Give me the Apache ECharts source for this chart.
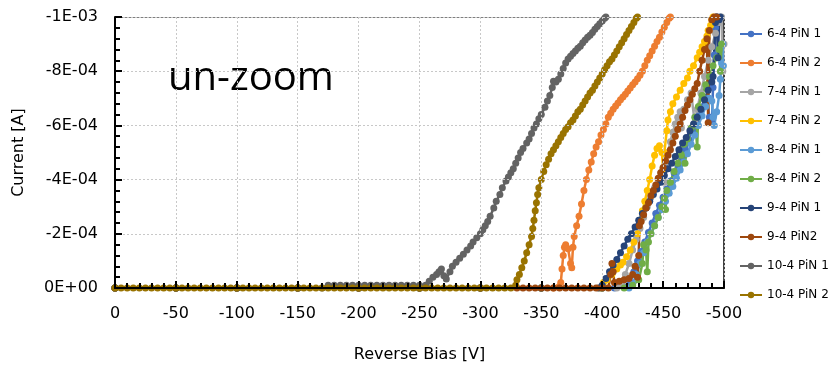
<!DOCTYPE html>
<html>
<head>
<meta charset="utf-8">
<script src="https://cdn.jsdelivr.net/npm/echarts@6/dist/echarts.min.js"></script>
<style>
  html, body { margin: 0; padding: 0; background: #fff; }
  #chart { width: 840px; height: 368px; }
</style>
</head>
<body>
<div id="chart"></div>
<script>
// current values are written in units of 1e-4 A, voltage in V
const UNIT = 1e-4

const names = ['6-4 PiN 1', '6-4 PiN 2', '7-4 PiN 1', '7-4 PiN 2', '8-4 PiN 1',
               '8-4 PiN 2', '9-4 PiN 1', '9-4 PiN2', '10-4 PiN 1', '10-4 PiN 2']
const colors = ['#4472C4', '#ED7D31', '#A5A5A5', '#FFC000', '#5B9BD5',
                '#70AD47', '#264478', '#9E480E', '#636363', '#997300']

const pin64_1 = [[0,0],[-50,0],[-100,0],[-150,0],[-200,0],[-250,0],[-300,0],[-350,0],[-400,0],[-410,0],[-415,-0.1],[-420,-0.05],
  [-423,-0.2],[-426,-0.6],[-429,-1.0],[-432,-1.35],[-435,-1.7],[-438,-2.05],[-441,-2.4],[-444,-2.75],[-447,-3.05],[-450,-3.35],
  [-453,-3.65],[-456,-3.95],[-459,-4.25],[-462,-4.55],[-465,-4.85],[-468,-5.15],[-471,-5.5],[-474,-5.8],[-477,-6.1],[-480,-6.4],
  [-483,-6.7],[-486,-7.0],[-488,-6.3],[-490,-6.1],[-491,-7.4],[-492,-8.6],[-493,-9.6],[-494,-10.0]]

const pin64_2 = [[0,0],[-50,0],[-100,0],[-150,0],[-200,0],[-250,0],[-300,0],[-350,0],[-360,0],[-366,-0.2],
  [-367,-0.7],[-368,-1.2],[-369,-1.5],[-370,-1.6],[-372,-1.45],[-374,-0.9],[-375,-0.75],[-376,-1.5],[-377,-1.9],[-379,-2.3],
  [-381,-2.65],[-383,-3.1],[-385,-3.6],[-387,-4.0],[-389,-4.35],[-391,-4.65],[-393,-4.95],[-395,-5.2],[-397,-5.4],[-399,-5.65],
  [-401,-5.85],[-403,-6.05],[-405,-6.3],[-407,-6.45],[-409,-6.6],[-411,-6.72],[-413,-6.83],[-415,-6.95],[-417,-7.05],[-419,-7.15],
  [-421,-7.27],[-423,-7.38],[-425,-7.5],[-427,-7.6],[-429,-7.72],[-431,-7.85],[-433,-8.0],[-435,-8.2],[-437,-8.4],[-439,-8.57],
  [-441,-8.75],[-443,-8.92],[-445,-9.1],[-447,-9.25],[-449,-9.45],[-451,-9.62],[-453,-9.8],[-455,-9.95],[-456,-10.0]]

const pin74_1 = [[0,0],[-50,0],[-100,0],[-150,0],[-200,0],[-250,0],[-300,0],[-350,0],[-400,0],[-412,0],
  [-416,-0.15],[-419,-0.5],[-422,-0.9],[-425,-1.4],[-428,-1.8],[-431,-2.2],[-434,-2.6],[-437,-3.0],[-440,-3.35],[-443,-3.7],
  [-446,-4.0],[-449,-4.3],[-451,-3.9],[-452,-4.6],[-454,-5.0],[-456,-5.4],[-458,-5.75],[-460,-6.05],[-462,-6.3],[-464,-6.5],
  [-465,-5.9],[-467,-6.6],[-470,-6.95],[-473,-7.2],[-476,-6.1],[-478,-6.6],[-481,-7.2],[-484,-7.8],[-487,-8.4],[-490,-8.9],
  [-493,-9.4],[-496,-9.8],[-498,-10.0],[-499,-8.0],[-500,-9.0]]

const pin74_2 = [[0,0],[-50,0],[-100,0],[-150,0],[-200,0],[-250,0],[-300,0],[-350,0],[-398,0],
  [-401,-0.2],[-404,-0.3],[-408,-0.5],[-412,-0.7],[-415,-0.85],[-417,-0.95],[-420,-1.15],[-423,-1.4],[-426,-1.7],[-429,-2.0],
  [-431,-2.5],[-433,-2.85],[-435,-3.2],[-437,-3.6],[-439,-4.0],[-441,-4.5],[-443,-4.9],[-445,-5.15],[-447,-5.25],[-449,-5.0],
  [-450,-4.4],[-451,-5.0],[-453,-5.8],[-454,-6.2],[-456,-6.5],[-458,-6.8],[-461,-7.05],[-464,-7.3],[-467,-7.55],[-470,-7.75],
  [-472,-8.0],[-475,-8.2],[-478,-8.5],[-480,-8.7],[-482,-8.9],[-484,-9.1],[-486,-9.3],[-487,-9.5],[-489,-9.7],[-490,-9.9],[-491,-10.0]]

const pin84_1 = [[0,0],[-50,0],[-100,0],[-150,0],[-200,0],[-250,0],[-300,0],[-350,0],[-400,0],[-422,0],
  [-425,-0.15],[-428,-0.5],[-431,-0.9],[-434,-1.3],[-437,-1.7],[-440,-2.0],[-443,-2.3],[-446,-2.6],[-449,-2.9],[-452,-3.2],
  [-455,-3.5],[-458,-3.75],[-461,-4.05],[-464,-4.35],[-467,-4.65],[-470,-4.95],[-473,-5.3],[-476,-5.65],[-479,-6.0],[-482,-6.35],
  [-485,-6.7],[-488,-7.0],[-490,-6.9],[-491,-6.3],[-492,-6.0],[-494,-6.5],[-496,-7.1],[-497,-7.7],[-498,-8.3],[-499,-9.0],[-499.5,-8.2]]

const pin84_2 = [[0,0],[-50,0],[-100,0],[-150,0],[-200,0],[-250,0],[-300,0],[-350,0],[-400,0],[-418,0],
  [-425,-0.1],[-430,-0.3],[-433,-0.9],[-434,-1.6],[-436,-1.4],[-437,-0.6],[-438,-1.7],[-440,-2.0],[-443,-2.3],[-446,-2.6],
  [-449,-3.0],[-451,-3.3],[-452,-2.9],[-453,-3.6],[-456,-3.9],[-459,-4.3],[-462,-4.6],[-465,-4.9],[-467,-5.3],[-468,-4.6],
  [-470,-5.5],[-473,-5.9],[-476,-6.3],[-478,-5.2],[-479,-6.7],[-482,-7.1],[-485,-7.5],[-488,-7.8],[-491,-8.2],[-494,-8.5],
  [-496,-8.8],[-497,-8.0],[-498,-9.0]]

const pin94_1 = [[0,0],[-50,0],[-100,0],[-150,0],[-200,0],[-250,0],[-300,0],[-350,0],[-397,0],
  [-400,-0.1],[-403,-0.35],[-406,-0.6],[-409,-0.85],[-412,-1.05],[-415,-1.3],[-418,-1.55],[-421,-1.8],[-424,-2.0],[-427,-2.25],
  [-430,-2.5],[-433,-2.75],[-436,-2.95],[-439,-3.2],[-442,-3.45],[-445,-3.65],[-448,-3.9],[-451,-4.15],[-454,-4.4],[-457,-4.6],
  [-460,-4.85],[-463,-5.1],[-466,-5.35],[-469,-5.55],[-472,-5.8],[-475,-6.05],[-478,-6.3],[-481,-6.6],[-484,-6.95],[-487,-7.3],
  [-490,-7.6],[-491,-7.8],[-493,-9.8],[-494,-10.0],[-495,-8.5],[-496,-9.9],[-497,-10.0]]

const pin94_2 = [[0,0],[-50,0],[-100,0],[-150,0],[-200,0],[-250,0],[-300,0],[-330,0],[-335,0],[-340,0],[-345,0],[-350,0],
  [-355,0],[-360,0],[-365,0],[-370,0],[-375,0],[-380,0],[-385,0],[-390,0],[-395,0],[-400,0],[-405,0],
  [-407,-0.5],[-408,-0.9],[-409,-0.6],[-410,-0.2],[-414,-0.25],[-418,-0.3],[-422,-0.35],[-425,-0.5],[-427,-0.8],[-429,-0.4],
  [-430,-1.2],[-430.5,-2.3],[-432,-2.45],[-434,-2.7],[-436,-2.95],[-438,-3.15],[-440,-3.4],[-442,-3.6],[-444,-3.8],[-446,-4.05],
  [-448,-4.25],[-450,-4.45],[-452,-4.7],[-454,-4.9],[-456,-5.1],[-458,-5.35],[-460,-5.6],[-462,-5.85],[-464,-6.05],[-466,-6.3],
  [-468,-6.55],[-470,-6.75],[-472,-6.95],[-474,-7.15],[-476,-7.35],[-478,-7.55],[-480,-8.0],[-482,-8.4],[-484,-8.8],[-486,-9.2],
  [-487,-6.1],[-488,-9.5],[-490,-9.9],[-492,-10.0],[-494,-10.0]]

const pin104_1 = [[0,0],[-50,0],[-100,0],[-150,0],[-170,0],[-175,-0.1],[-180,-0.1],[-185,-0.1],[-190,-0.1],[-195,-0.1],
  [-200,-0.1],[-205,-0.1],[-210,-0.1],[-215,-0.1],[-220,-0.1],[-225,-0.1],[-230,-0.1],[-235,-0.1],[-240,-0.1],[-245,-0.1],
  [-250,-0.1],[-255,-0.1],[-258,-0.25],[-261,-0.4],[-264,-0.5],[-266,-0.6],[-268,-0.7],[-270,-0.45],[-272,-0.33],[-275,-0.6],
  [-277,-0.8],[-280,-0.95],[-283,-1.1],[-286,-1.25],[-289,-1.4],[-292,-1.55],[-294,-1.7],[-297,-1.85],[-300,-2.0],[-302,-2.15],
  [-304,-2.3],[-306,-2.45],[-308,-2.65],[-311,-2.95],[-313,-3.2],[-316,-3.45],[-318,-3.7],[-321,-3.95],[-323,-4.1],[-325,-4.25],
  [-327,-4.4],[-329,-4.6],[-331,-4.8],[-333,-5.0],[-335,-5.15],[-338,-5.35],[-340,-5.5],[-342,-5.7],[-344,-5.9],[-346,-6.05],
  [-348,-6.25],[-350,-6.4],[-353,-6.67],[-355,-6.9],[-357,-7.1],[-359,-7.4],[-360,-7.63],[-362,-7.6],[-364,-7.7],[-366,-7.9],
  [-368,-8.1],[-370,-8.3],[-372,-8.45],[-374,-8.55],[-376,-8.65],[-378,-8.75],[-380,-8.85],[-382,-8.92],[-384,-9.05],[-386,-9.15],
  [-388,-9.25],[-390,-9.33],[-392,-9.43],[-394,-9.55],[-396,-9.65],[-398,-9.75],[-400,-9.85],[-402,-9.95],[-403,-10.0]]

const pin104_2 = [[0,0],[-5,0],[-10,0],[-15,0],[-20,0],[-25,0],[-30,0],[-35,0],[-40,0],[-45,0],[-50,0],[-55,0],[-60,0],
  [-65,0],[-70,0],[-75,0],[-80,0],[-85,0],[-90,0],[-95,0],[-100,0],[-105,0],[-110,0],[-115,0],[-120,0],[-125,0],[-130,0],
  [-135,0],[-140,0],[-145,0],[-150,0],[-155,0],[-160,0],[-165,0],[-170,0],[-175,0],[-180,0],[-185,0],[-190,0],[-195,0],
  [-200,0],[-205,0],[-210,0],[-215,0],[-220,0],[-225,0],[-230,0],[-235,0],[-240,0],[-245,0],[-250,0],[-255,0],[-260,0],
  [-265,0],[-270,0],[-275,0],[-280,0],[-285,0],[-290,0],[-295,0],[-300,0],[-305,0],[-310,0],[-315,0],[-320,0],[-325,0],
  [-329,-0.1],[-330,-0.3],[-332,-0.5],[-334,-0.75],[-336,-1.0],[-338,-1.3],[-340,-1.6],[-342,-1.9],[-343,-2.2],[-344,-2.5],
  [-345,-2.85],[-346,-3.15],[-347,-3.45],[-348,-3.7],[-350,-4.0],[-352,-4.3],[-354,-4.55],[-356,-4.75],[-358,-4.95],[-360,-5.1],
  [-362,-5.25],[-364,-5.4],[-366,-5.55],[-368,-5.7],[-370,-5.85],[-372,-5.95],[-374,-6.1],[-376,-6.2],[-378,-6.35],[-380,-6.5],
  [-382,-6.6],[-384,-6.75],[-386,-6.9],[-388,-7.05],[-390,-7.2],[-392,-7.3],[-394,-7.45],[-396,-7.6],[-398,-7.75],[-400,-7.9],
  [-402,-8.05],[-404,-8.2],[-406,-8.35],[-408,-8.45],[-410,-8.6],[-412,-8.75],[-414,-8.9],[-416,-9.05],[-418,-9.2],[-420,-9.35],
  [-422,-9.5],[-424,-9.65],[-426,-9.8],[-428,-9.95],[-429,-10.0]]

const datasets = [pin64_1, pin64_2, pin74_1, pin74_2, pin84_1, pin84_2, pin94_1, pin94_2, pin104_1, pin104_2]

const FONT = 'DejaVu Sans'

// Excel style number format 0E+00
function sciLabel(v){
    if(Math.abs(v) < 1e-12){
        return '0E+00'
    }
    const parts = v.toExponential(0).split('e')
    const exp = parseInt(parts[1])
    const absExp = Math.abs(exp)
    return parts[0] + 'E' + (exp < 0 ? '-' : '+') + (absExp < 10 ? '0' : '') + absExp
}

const chart = echarts.init(document.getElementById('chart'))

const series = names.map((name, i) => {
    return {
        name: name,
        type: 'line',
        data: datasets[i].map(p => [p[0], p[1] * UNIT]),
        symbol: 'circle',
        symbolSize: 7,
        lineStyle: { color: colors[i], width: 2.5 },
        itemStyle: { color: colors[i] },
        emphasis: { disabled: true },
        z: 2,
        animation: false
    }
})

function tickStyle(){
    return {
        axisLine: { show: true, onZero: false, lineStyle: { color: '#000', width: 2 } },
        axisTick: { show: true, inside: true, length: 7, lineStyle: { color: '#000', width: 2 } },
        minorTick: { show: true, splitNumber: 5, length: 5, lineStyle: { color: '#000', width: 2 } },
        splitLine: { show: true, lineStyle: { color: '#c8c8c8', width: 1, type: [2, 2] } },
        z: 10
    }
}

const option = {
    backgroundColor: '#ffffff',
    animation: false,
    grid: {
        left: 115,
        right: 116,
        top: 17,
        bottom: 72
    },
    legend: {
        orient: 'vertical',
        left: 739,
        top: 28,
        padding: 0,
        itemWidth: 22,
        itemHeight: 8,
        itemGap: 17,
        textStyle: { fontFamily: FONT, fontSize: 12, color: '#000' },
        data: names
    },
    graphic: [
        {
            type: 'rect',
            z: 5,
            shape: { x: 148, y: 35, width: 212, height: 78 },
            style: { fill: '#ffffff' }
        },
        {
            type: 'text',
            z: 6,
            x: 168,
            y: 79,
            style: {
                text: 'un-zoom',
                font: '40px "Open Sans"',
                fill: '#000',
                verticalAlign: 'middle'
            }
        }
    ],
    xAxis: [
        Object.assign({
            type: 'value',
            min: -500,
            max: 0,
            interval: 50,
            inverse: true,
            position: 'bottom',
            name: 'Reverse Bias [V]',
            nameLocation: 'middle',
            nameGap: 59,
            nameTextStyle: { fontFamily: FONT, fontSize: 16, color: '#000' },
            axisLabel: { fontFamily: FONT, fontSize: 16, color: '#000', margin: 18 }
        }, tickStyle()),
        {
            // top frame line only
            type: 'value',
            min: -500,
            max: 0,
            inverse: true,
            position: 'top',
            axisLine: { show: true, onZero: false, lineStyle: { color: '#7f7f7f', width: 1 } },
            axisTick: { show: false },
            axisLabel: { show: false },
            splitLine: { show: false }
        }
    ],
    yAxis: [
        Object.assign({
            type: 'value',
            min: -0.001,
            max: 0,
            interval: 0.0002,
            inverse: true,
            position: 'left',
            name: 'Current [A]',
            nameLocation: 'middle',
            nameRotate: 90,
            nameGap: 88,
            nameTextStyle: { fontFamily: FONT, fontSize: 16, color: '#000' },
            axisLabel: { fontFamily: FONT, fontSize: 16, color: '#000', margin: 17, formatter: sciLabel }
        }, tickStyle()),
        {
            // right frame line only
            type: 'value',
            min: -0.001,
            max: 0,
            inverse: true,
            position: 'right',
            axisLine: { show: true, onZero: false, lineStyle: { color: '#000', width: 1.5 } },
            axisTick: { show: false },
            axisLabel: { show: false },
            splitLine: { show: false }
        }
    ],
    series: series
}

chart.setOption(option)
</script>
</body>
</html>
